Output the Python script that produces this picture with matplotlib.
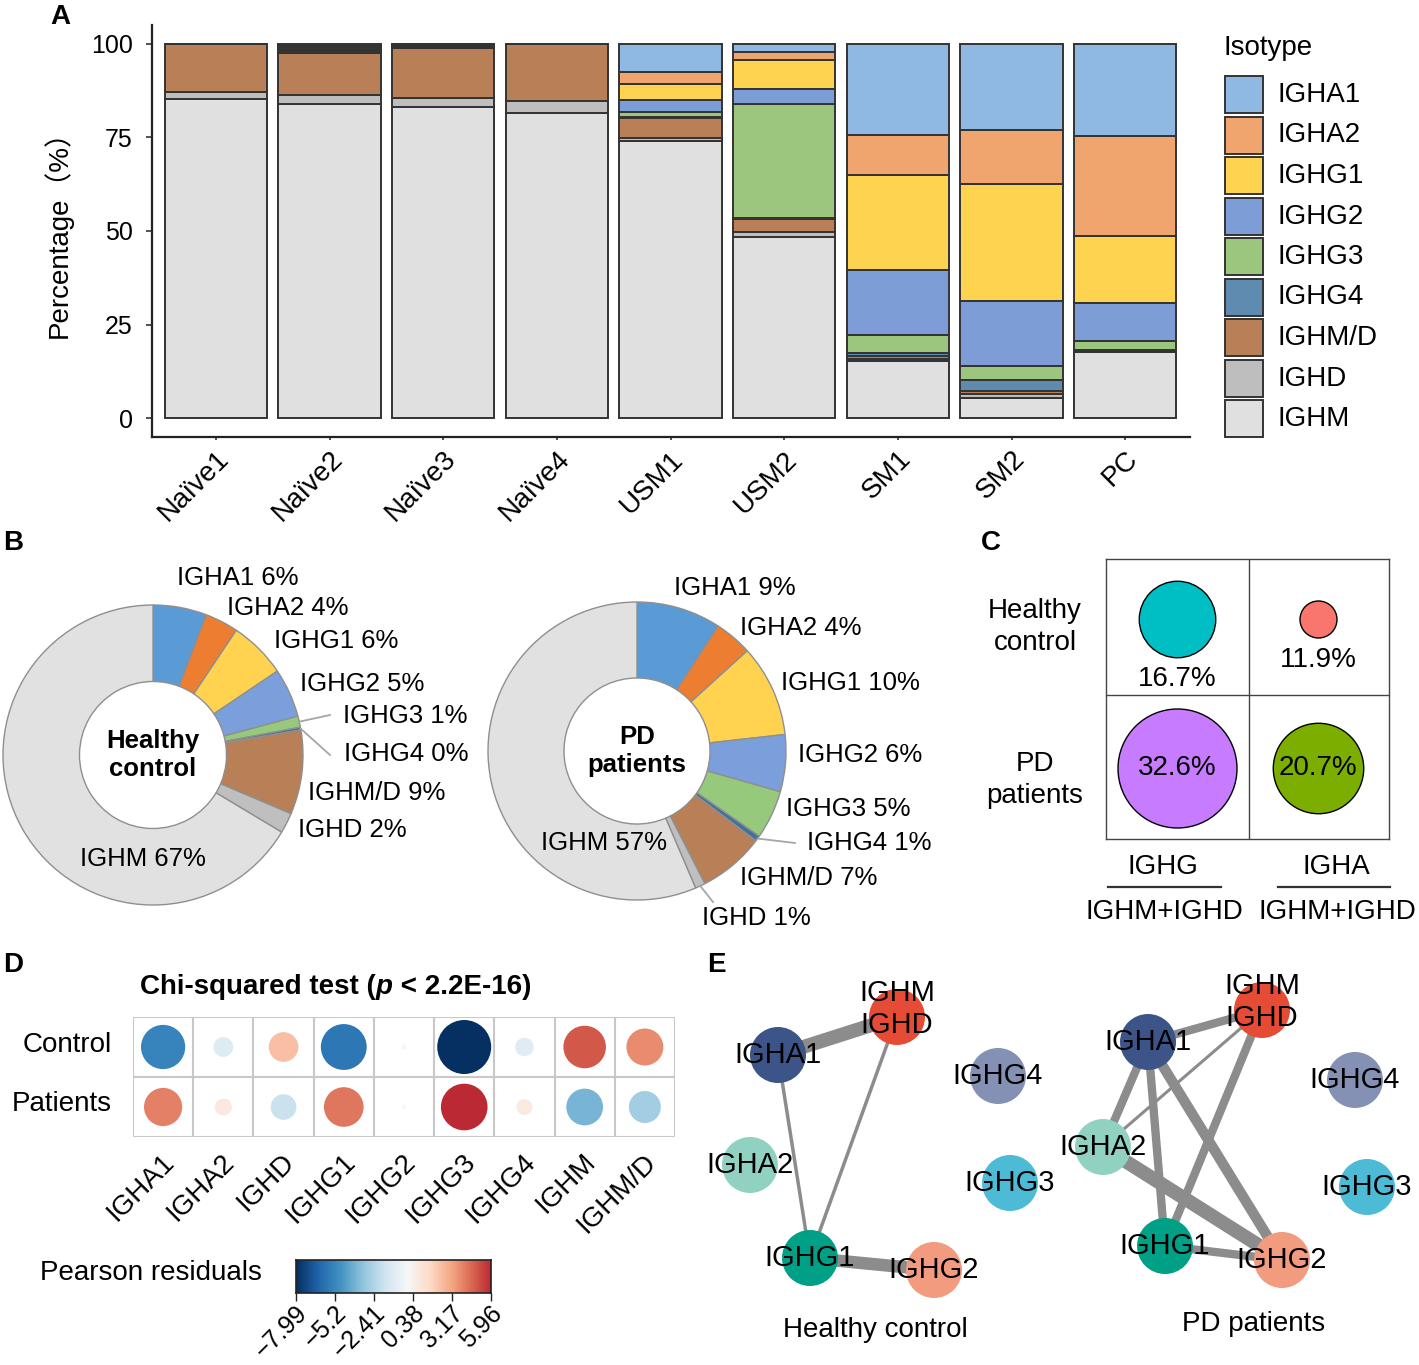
import numpy as np
import matplotlib
matplotlib.use('Agg')
import matplotlib.pyplot as plt
from matplotlib.patches import Rectangle
from matplotlib.colors import Normalize
from matplotlib.transforms import ScaledTranslation, blended_transform_factory

W, H = 1419, 1365
SANS = ['Liberation Sans', 'DejaVu Sans']
plt.rcParams['font.family'] = SANS

# ---- panel A: isotype share per B cell subset (%) ----
subsets = ['Naïve1', 'Naïve2', 'Naïve3', 'Naïve4', 'USM1', 'USM2', 'SM1', 'SM2', 'PC']
isotypes = ['IGHA1', 'IGHA2', 'IGHG1', 'IGHG2', 'IGHG3', 'IGHG4', 'IGHM/D', 'IGHD', 'IGHM']
igha1 = [0.0, 0.43, 0.2, 0.0, 7.5, 2.1, 24.4, 23.1, 24.7]
igha2 = [0.0, 0.43, 0.2, 0.0, 3.2, 2.2, 10.6, 14.4, 26.7]
ighg1 = [0.0, 0.44, 0.2, 0.0, 4.4, 7.7, 25.3, 31.3, 17.8]
ighg2 = [0.0, 0.43, 0.2, 0.0, 3.0, 4.0, 17.5, 17.2, 10.1]
ighg3 = [0.0, 0.43, 0.2, 0.0, 1.5, 30.6, 4.9, 3.8, 2.4]
ighg4 = [0.0, 0.44, 0.2, 0.0, 0.2, 0.2, 0.7, 2.8, 0.1]
ighmd = [12.9, 11.1, 13.2, 15.3, 5.3, 3.6, 0.7, 0.8, 0.2]
ighd = [1.9, 2.3, 2.4, 3.2, 0.8, 1.2, 0.7, 1.3, 0.3]
ighm = [85.2, 84.0, 83.2, 81.5, 74.1, 48.4, 15.2, 5.3, 17.7]
colors_a = ['#8FB8E2', '#F0A46E', '#FED34F', '#7C9DD5', '#9CC57D', '#5F8BB1',
            '#B97F56', '#BEBEBE', '#E0E0E0']

# ---- panel B: isotype share, all cells (%) ----
hc_pct = [5.8, 3.6, 6.2, 5.3, 1.2, 0.3, 9.1, 2.2, 66.6]
pd_pct = [9.2, 4.1, 10.0, 6.2, 5.3, 0.6, 7.2, 1.1, 56.6]
colors_b = ['#5B9BD5', '#ED7D31', '#FFD34F', '#7B9FDB', '#96C97C', '#41719C',
            '#B97F56', '#BFBFBF', '#E1E1E1']

# ---- panel C: class-switch ratios (%) ----
ratio_rows = ['Healthy\ncontrol', 'PD\npatients']
ratio_cols = ['IGHG', 'IGHA']
ratio_hc = [16.7, 11.9]
ratio_pd = [32.6, 20.7]
ratio_colors = [['#00BFC4', '#F8766D'], ['#C77CFF', '#7CAE00']]

# ---- panel D: chi-squared Pearson residuals ----
resid_cols = ['IGHA1', 'IGHA2', 'IGHD', 'IGHG1', 'IGHG2', 'IGHG3', 'IGHG4', 'IGHM', 'IGHM/D']
resid_control = [-5.36, -1.07, 2.41, -5.76, 0.07, -7.99, -0.94, 4.96, 3.75]
resid_patients = [4.00, 0.80, -1.80, 4.30, -0.05, 5.96, 0.70, -3.70, -2.80]
cbar_ticks = [-7.99, -5.2, -2.41, 0.38, 3.17, 5.96]

# ---- panel E: isotype co-occurrence networks ----
net_nodes = ['IGHM/D', 'IGHA1', 'IGHA2', 'IGHG1', 'IGHG2', 'IGHG4', 'IGHG3']
node_colors = ['#E64B35', '#3C5488', '#91D1C2', '#00A087', '#F39B7F', '#8491B4', '#4DBBD5']
hc_edges = [('IGHA1', 'IGHM/D', 10), ('IGHA1', 'IGHG1', 2.5), ('IGHM/D', 'IGHG1', 2.5),
            ('IGHG1', 'IGHG2', 9)]
pd_edges = [('IGHA1', 'IGHM/D', 6), ('IGHA2', 'IGHM/D', 2.2), ('IGHG1', 'IGHM/D', 6),
            ('IGHA1', 'IGHA2', 6), ('IGHA1', 'IGHG1', 6), ('IGHA1', 'IGHG2', 7.5),
            ('IGHA2', 'IGHG2', 10), ('IGHG1', 'IGHG2', 6)]

fig = plt.figure(figsize=(W / 100, H / 100), dpi=100)


def fx(px):
    return px / W


def fy(py):
    return 1 - py / H


def px_axes(x0, y0, x1, y1):
    return fig.add_axes([fx(x0), fy(y1), (x1 - x0) / W, (y1 - y0) / H])


for letter, (px, py) in zip('ABCDE', [(60, 17), (13, 543), (991, 543), (13, 965), (716, 965)]):
    fig.text(fx(px), fy(py), letter, fontsize=20, weight='bold', ha='center', va='center')

# ================= A =================
axA = px_axes(152, 25, 1190, 437)
comp = dict(zip(isotypes, [igha1, igha2, ighg1, ighg2, ighg3, ighg4, ighmd, ighd, ighm]))
cmap_a = dict(zip(isotypes, colors_a))
xpos = np.arange(len(subsets))
bottom = np.zeros(len(subsets))
for name in reversed(isotypes):
    vals = np.array(comp[name])
    axA.bar(xpos, vals, 0.9, bottom=bottom, color=cmap_a[name],
            edgecolor='#333333', linewidth=1.4, zorder=2)
    bottom += vals
axA.set_xlim(-0.563, 8.57)
axA.set_ylim(-5, 105)
axA.set_yticks([0, 25, 50, 75, 100])
axA.set_xticks(xpos)
axA.set_xticklabels(subsets, rotation=45, ha='right', va='top', rotation_mode='anchor')
shift = ScaledTranslation(0.04, -0.08, fig.dpi_scale_trans)
for lab in axA.get_xticklabels():
    lab.set_transform(lab.get_transform() + shift)
for s in ['top', 'right']:
    axA.spines[s].set_visible(False)
for s in ['left', 'bottom']:
    axA.spines[s].set_linewidth(1.6)
    axA.spines[s].set_color('#222222')
axA.tick_params(axis='y', labelsize=18, length=4, width=1.2, pad=10, color='#333333')
axA.tick_params(axis='x', labelsize=20, length=2.5, width=1.2, pad=4, color='#333333')
axA.set_ylabel('Percentage（%）', fontsize=20, family=['Liberation Sans', 'Noto Sans CJK SC'])
axA.yaxis.set_label_coords(-0.076, 0.51)

# legend
axL = px_axes(1215, 30, 1419, 445)
axL.set_xlim(1215, 1419)
axL.set_ylim(445, 30)
axL.axis('off')
axL.text(1224, 48, 'Isotype', fontsize=20, va='center')
for i, name in enumerate(isotypes):
    top = 76 + 40.5 * i
    axL.add_patch(Rectangle((1225, top), 38, 37, facecolor=cmap_a[name],
                            edgecolor='#333333', lw=1.4))
    axL.text(1277, top + 19, name, fontsize=20, va='center')


# ================= B =================
def donut(cx, cy, r, vals, centre, label_xy, leaders):
    ax = fig.add_axes([fx(cx - r), fy(cy + r), 2 * r / W, 2 * r / H])
    wedges, _ = ax.pie(vals, colors=colors_b, startangle=90, counterclock=False,
                       wedgeprops=dict(width=0.51, edgecolor='#8f8f8f', linewidth=1))
    ax.set_xlim(-1, 1)
    ax.set_ylim(-1, 1)
    ax.text(0, 0, centre, ha='center', va='center', fontsize=18.5, weight='bold',
            linespacing=1.2)
    for name, v, w in zip(isotypes, vals, wedges):
        px, py = label_xy[name]
        ax.text((px - cx) / r, (cy - py) / r, f'{name} {round(v)}%', ha='left',
                va='center', fontsize=18.5, clip_on=False)
        if name in leaders:
            ang = np.deg2rad((w.theta1 + w.theta2) / 2)
            ex, ey = leaders[name]
            ax.plot([np.cos(ang), (ex - cx) / r], [np.sin(ang), (cy - ey) / r],
                    color='#a6a6a6', lw=1.3, clip_on=False)


donut(153, 755, 150, hc_pct, 'Healthy\ncontrol',
      {'IGHA1': (177, 578), 'IGHA2': (227, 608), 'IGHG1': (274, 641), 'IGHG2': (300, 684),
       'IGHG3': (343, 716), 'IGHG4': (344, 754), 'IGHM/D': (308, 793), 'IGHD': (298, 830),
       'IGHM': (80, 859)},
      {'IGHG3': (330, 715), 'IGHG4': (330, 755)})
donut(637, 751, 149, pd_pct, 'PD\npatients',
      {'IGHA1': (674, 588), 'IGHA2': (740, 628), 'IGHG1': (781, 683), 'IGHG2': (798, 755),
       'IGHG3': (786, 809), 'IGHG4': (807, 843), 'IGHM/D': (740, 878), 'IGHD': (702, 918),
       'IGHM': (541, 843)},
      {'IGHG4': (795, 843), 'IGHD': (713, 902)})

# ================= C =================
axC = px_axes(1106, 559, 1389, 839)
axC.set_xlim(0, 2)
axC.set_ylim(0, 2)
axC.set_xticks([])
axC.set_yticks([])
for s in axC.spines.values():
    s.set_color('#444444')
    s.set_linewidth(1)
axC.axvline(1.01, color='#444444', lw=1)
axC.axhline(1.03, color='#444444', lw=1)
allv = np.array(ratio_hc + ratio_pd)
vmin, vmax = allv.min(), allv.max()
dmin, dmax = 37, 119  # circle diameter range in px
row_y = [1.57, 0.51]
for i, vals in enumerate([ratio_hc, ratio_pd]):
    for j, v in enumerate(vals):
        d = dmin + np.sqrt((v - vmin) / (vmax - vmin)) * (dmax - dmin)
        axC.scatter(j + 0.5, row_y[i], s=(d * 0.72) ** 2, color=ratio_colors[i][j],
                    edgecolor='black', linewidth=1, zorder=3)
        ty = row_y[i] if i == 1 else row_y[i] - (d / 2 + 22) / 140
        axC.text(j + 0.5, ty, f'{v}%', ha='center', va='center', fontsize=20, zorder=4)
for lab, py in zip(ratio_rows, [627, 780]):
    fig.text(fx(1035), fy(py), lab, ha='center', va='center', fontsize=20, linespacing=1.3)
for lab, cx, (l0, l1) in zip(ratio_cols, [1163, 1336], [(1108, 1221), (1278, 1390)]):
    fig.text(fx(cx), fy(867), lab, ha='center', va='center', fontsize=20)
    fig.add_artist(plt.Line2D([fx(l0), fx(l1)], [fy(887), fy(887)], color='#333333', lw=1.6))
    fig.text(fx(cx + 1), fy(912), 'IGHM+IGHD', ha='center', va='center', fontsize=20)

# ================= D =================
norm = Normalize(-7.99, 7.99)
cmap_d = plt.get_cmap('RdBu_r')
axD = px_axes(133, 1017, 675, 1137)
axD.set_xlim(0, 9)
axD.set_ylim(0, 2)
axD.axis('off')
for k in range(10):
    axD.axvline(k, color='#C8C8C8', lw=1.5, zorder=1)
for k in range(3):
    axD.axhline(k, color='#C8C8C8', lw=1.5, zorder=1)
cx = np.arange(len(resid_cols)) + 0.5
for i, row in enumerate([resid_control, resid_patients]):
    row = np.array(row)
    d = 0.9 * 60 * np.sqrt(np.abs(row) / 7.99)
    axD.scatter(cx, np.full(len(row), 1.5 - i), s=(d * 0.72) ** 2, c=row, cmap=cmap_d,
                norm=norm, linewidths=0, zorder=2)
for lab, py in zip(['Control', 'Patients'], [1045, 1104]):
    fig.text(fx(112), fy(py), lab, ha='right', va='center', fontsize=20)
for j, lab in enumerate(resid_cols):
    axD.text(j + 0.47, -0.2, lab, rotation=45, ha='right', va='top',
             rotation_mode='anchor', fontsize=20, clip_on=False)
t1 = fig.text(fx(140), fy(987), 'Chi-squared test (', fontsize=20, weight='bold',
              va='center')
t2 = axD.annotate('p', xy=(1, 0), xycoords=t1, va='bottom', ha='left', fontsize=20,
                  weight='bold', style='italic')
axD.annotate(' < 2.2E-16)', xy=(1, 0), xycoords=t2, va='bottom', ha='left', fontsize=20,
             weight='bold')

# colour bar
axCB = px_axes(296, 1260, 491, 1293)
grad = np.linspace(cbar_ticks[0], cbar_ticks[-1], 300)[None, :]
axCB.imshow(grad, cmap=cmap_d, norm=norm, aspect='auto',
            extent=[cbar_ticks[0], cbar_ticks[-1], 0, 1])
axCB.set_yticks([])
axCB.set_xticks(cbar_ticks)
axCB.set_xticklabels([])
axCB.tick_params(axis='x', length=6, width=1, color='#222222')
for s in axCB.spines.values():
    s.set_linewidth(1.2)
    s.set_color('#222222')
btf = blended_transform_factory(axCB.transData, axCB.transAxes)
for t in cbar_ticks:
    axCB.text(t - 0.05, -0.24, f'{t:g}'.replace('-', '\u2212'), transform=btf, rotation=45,
              ha='right', va='top', rotation_mode='anchor', fontsize=18, clip_on=False)
fig.text(fx(40), fy(1273), 'Pearson residuals', ha='left', va='center', fontsize=20)

# ================= E =================
axE = px_axes(700, 960, 1419, 1360)
axE.set_xlim(700, 1419)
axE.set_ylim(1360, 960)
axE.axis('off')
hc_layout = {'IGHM/D': (897, 1017), 'IGHA1': (778, 1055), 'IGHA2': (750, 1165),
             'IGHG1': (810, 1258), 'IGHG2': (934, 1270), 'IGHG4': (998, 1076),
             'IGHG3': (1010, 1183)}
pd_layout = {'IGHM/D': (1262, 1010), 'IGHA1': (1148, 1042), 'IGHA2': (1103, 1147),
             'IGHG1': (1165, 1246), 'IGHG2': (1282, 1260), 'IGHG4': (1355, 1080),
             'IGHG3': (1367, 1187)}
for layout, edges, title, tpos in [(hc_layout, hc_edges, 'Healthy control', (875, 1330)),
                                   (pd_layout, pd_edges, 'PD patients', (1254, 1324))]:
    for a, b, w in edges:
        axE.plot([layout[a][0], layout[b][0]], [layout[a][1], layout[b][1]],
                 color='#8C8C8C', lw=w, solid_capstyle='butt', zorder=1)
    xs = [layout[n][0] for n in net_nodes]
    ys = [layout[n][1] for n in net_nodes]
    axE.scatter(xs, ys, s=(56 * 0.72) ** 2, c=node_colors, linewidths=0, zorder=2)
    for n in net_nodes:
        x, y = layout[n]
        lab = 'IGHM\nIGHD' if n == 'IGHM/D' else n
        dy = -8 if n == 'IGHM/D' else 0
        axE.text(x, y + dy, lab, ha='center', va='center', fontsize=21,
                 linespacing=1.15, zorder=3)
    axE.text(tpos[0], tpos[1], title, ha='center', va='center', fontsize=20)

fig.savefig('out.png', dpi=100)
